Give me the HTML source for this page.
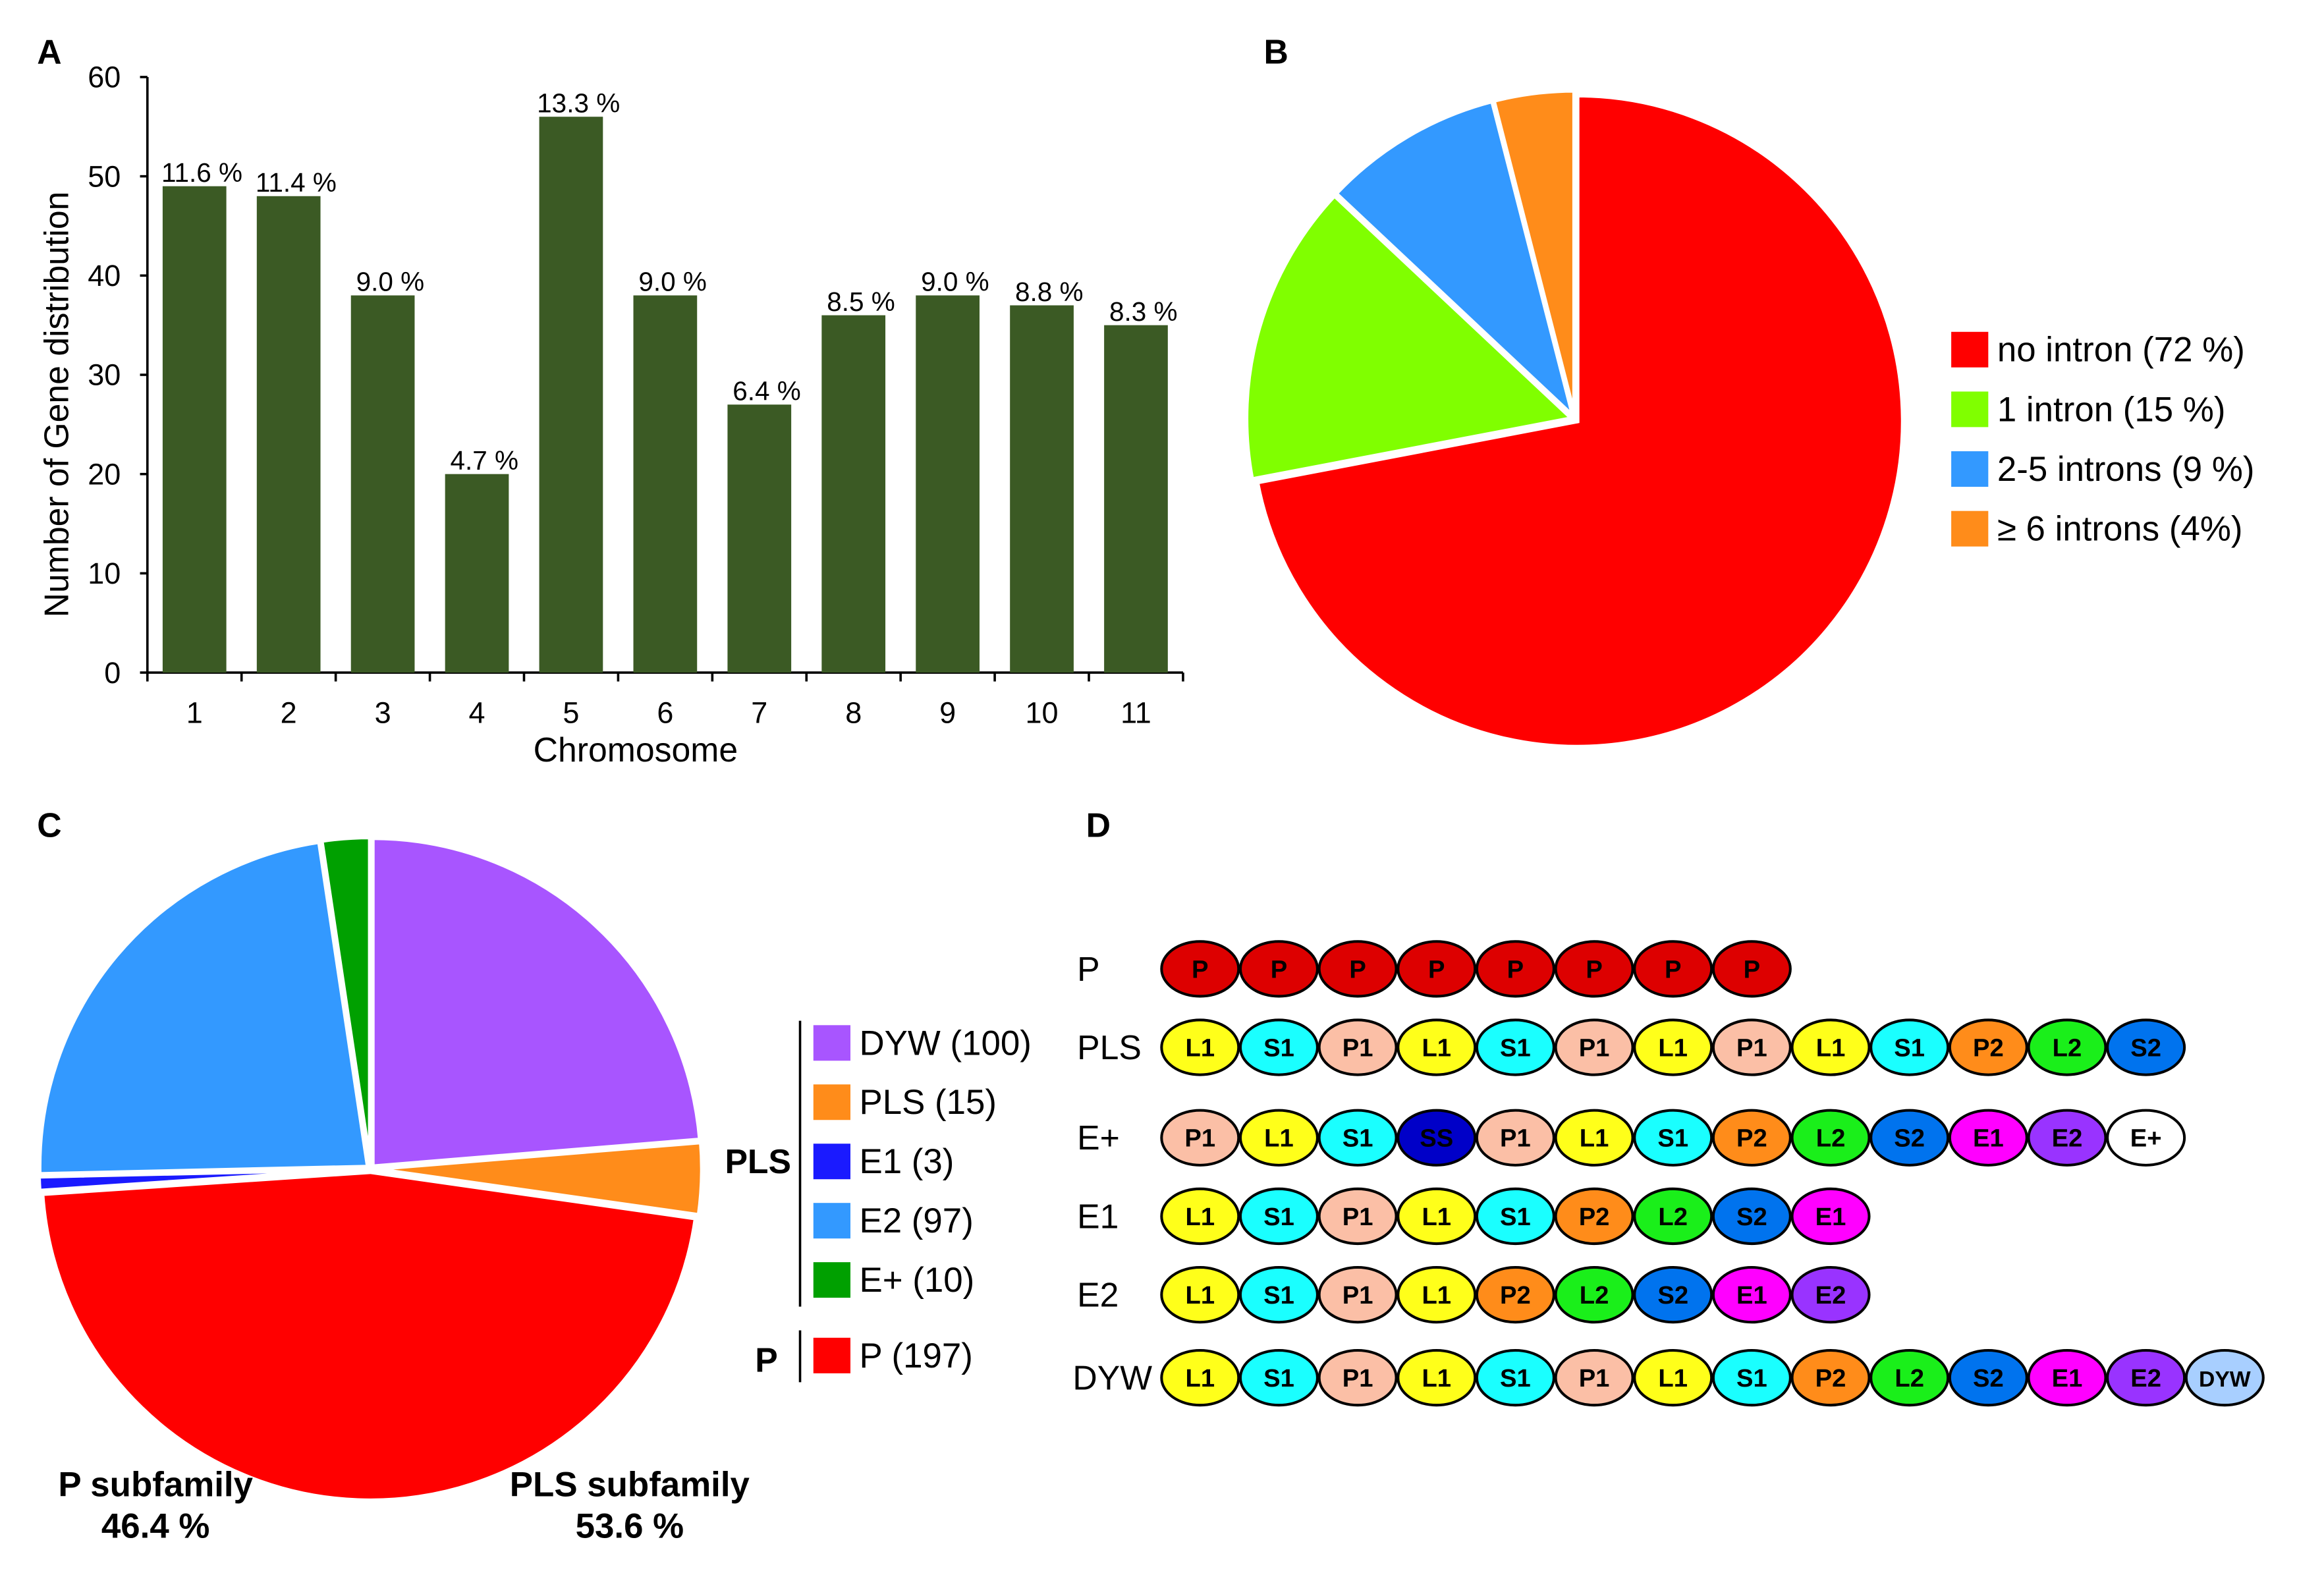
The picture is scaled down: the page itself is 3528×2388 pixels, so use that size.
<!DOCTYPE html>
<html><head><meta charset="utf-8">
<style>
html,body{margin:0;padding:0;background:#fff;}
svg{display:block;}
text{font-family:"Liberation Sans",Arial,sans-serif;}
</style></head>
<body>
<svg id="fig" width="3528" height="2388" viewBox="0 0 1568.6 1061.8" preserveAspectRatio="none" xmlns="http://www.w3.org/2000/svg">
<rect width="1568.6" height="1061.8" fill="#fff"/>
<text x="25" y="43" font-size="23" font-weight="bold">A</text>
<text x="853" y="43" font-size="23" font-weight="bold">B</text>
<text x="25" y="565" font-size="23" font-weight="bold">C</text>
<text x="733" y="565" font-size="23" font-weight="bold">D</text>
<g id="panelA"></g>
<g id="panelB"></g>
<g id="panelC"></g>
<g id="panelD"></g>
</svg>
<script>
// Panel A data
const chromosomes = ['1','2','3','4','5','6','7','8','9','10','11'];
const geneCounts = [49,48,38,20,56,38,27,36,38,37,35];
const pctLabels = ['11.6 %','11.4 %','9.0 %','4.7 %','13.3 %','9.0 %','6.4 %','8.5 %','9.0 %','8.8 %','8.3 %'];
const yTicks = [0,10,20,30,40,50,60];
// Panel B data
const intronLabels = ['no intron (72 %)','1 intron (15 %)','2-5 introns (9 %)','\u2265 6 introns (4%)'];
const intronValues = [72,15,9,4];
const intronColors = ['#ff0000','#80ff00','#3399ff','#ff8c1a'];
// Panel C data
const subLabels = ['DYW (100)','PLS (15)','P (197)','E1 (3)','E2 (97)','E+ (10)'];
const subValues = [100,15,197,3,97,10];
const subColors = ['#a855ff','#ff8c1a','#ff0000','#1a1aff','#3399ff','#00a000'];
// Panel D data
const motifRows = ['P','PLS','E+','E1','E2','DYW'];
const motifSeqs = [
 ['P','P','P','P','P','P','P','P'],
 ['L1','S1','P1','L1','S1','P1','L1','P1','L1','S1','P2','L2','S2'],
 ['P1','L1','S1','SS','P1','L1','S1','P2','L2','S2','E1','E2','E+'],
 ['L1','S1','P1','L1','S1','P2','L2','S2','E1'],
 ['L1','S1','P1','L1','P2','L2','S2','E1','E2'],
 ['L1','S1','P1','L1','S1','P1','L1','S1','P2','L2','S2','E1','E2','DYW']
];
const motifColors = {P:'#dd0000',L1:'#ffff1a',S1:'#1affff',P1:'#fbbfa6',SS:'#0000c8',P2:'#ff8c1a',L2:'#1aef1a',S2:'#0073ee',E1:'#ff00ff',E2:'#9933ff','E+':'#ffffff',DYW:'#a8cfff'};

const NS='http://www.w3.org/2000/svg';
function mk(parent,tag,attrs,txt){const e=document.createElementNS(NS,tag);for(const k in attrs)e.setAttribute(k,attrs[k]);if(txt!==undefined)e.textContent=txt;parent.appendChild(e);return e;}

// ---------- Panel A ----------
(function(){
 const g=document.getElementById('panelA');
 const x0=99.5,x1=798.5,y0=454,y60=52;
 const yS=v=>y0-(y0-y60)*v/60;
 const bw=(x1-x0)/chromosomes.length;
 const xS=i=>x0+bw*(i+0.5);
 const ax=mk(g,'path',{d:`M${x0},${y60}V${y0}H${x1}`,stroke:'#000','stroke-width':1.6,fill:'none'});
 
 
 yTicks.forEach(t=>{
  const l=mk(g,'line',{x1:x0-5,x2:x0,y1:yS(t),y2:yS(t),stroke:'#000','stroke-width':1.6});
  
  
  const tx=mk(g,'text',{x:x0-18,y:yS(t)+7,'font-size':20,'text-anchor':'end'},t);
  
  
 });
 for(let i=0;i<=chromosomes.length;i++){
  const l=mk(g,'line',{x1:x0+bw*i,x2:x0+bw*i,y1:y0,y2:y0+6,stroke:'#000','stroke-width':1.6});
  
  
 }
 chromosomes.forEach((c,i)=>{
  const v=geneCounts[i];
  const r=mk(g,'rect',{x:xS(i)-21.5,y:yS(v),width:43,height:y0-yS(v),fill:'#3b5a24'});
  
  
  const pl=mk(g,'text',{x:xS(i)+5,y:yS(v)-3,'font-size':18,'text-anchor':'middle'},pctLabels[i]);
  
  
  const xl=mk(g,'text',{x:xS(i),y:488,'font-size':20,'text-anchor':'middle'},c);
  
  
 });
 const xt=mk(g,'text',{x:429,y:514,'font-size':23,'text-anchor':'middle'},'Chromosome');
 
 
 const yt=mk(g,'text',{x:0,y:0,'font-size':23,'text-anchor':'middle',transform:'translate(46,273) rotate(-90)'},'Number of Gene distribution');
 
 
})();

function pie(g,cx,cy,r,vals,cols,names,explode){
 const tot=vals.reduce((a,b)=>a+b,0);let a=0;
 vals.forEach((v,i)=>{
  const a0=a, a1=a+v/tot*2*Math.PI; a=a1;
  const mid=(a0+a1)/2, ox=Math.sin(mid)*explode, oy=-Math.cos(mid)*explode;
  const px=t=>cx+ox+r*Math.sin(t), py=t=>cy+oy-r*Math.cos(t);
  const large=(a1-a0)>Math.PI?1:0;
  const p=mk(g,'path',{d:`M${cx+ox},${cy+oy}L${px(a0)},${py(a0)}A${r},${r} 0 ${large} 1 ${px(a1)},${py(a1)}Z`,fill:cols[i],stroke:'#fff','stroke-width':3});
  
  
 });
}

// ---------- Panel B ----------
(function(){
 const g=document.getElementById('panelB');
 pie(g,1063,283,220,intronValues,intronColors,['no-intron','1-intron','2-5-introns','6-plus-introns'],2);
 intronLabels.forEach((l,i)=>{
  const y=236+i*40.3;
  const s=mk(g,'rect',{x:1317,y:y-12,width:25,height:24,fill:intronColors[i]});
  
  
  const t=mk(g,'text',{x:1348,y:y+8,'font-size':23.5},l);
  
  
 });
})();

// ---------- Panel C ----------
(function(){
 const g=document.getElementById('panelC');
 pie(g,250,789,222,subValues,subColors,['dyw','pls','p','e1','e2','e-plus'],2);
 const order=[0,1,3,4,5,2];
 const ys=[704,744,784,824,864,915];
 order.forEach((k,j)=>{
  const s=mk(g,'rect',{x:549,y:ys[j]-12,width:25,height:24,fill:subColors[k]});
  
  
  const t=mk(g,'text',{x:580,y:ys[j]+8,'font-size':23.5},subLabels[k]);
  
  
 });
 mk(g,'line',{x1:540,x2:540,y1:689,y2:882,stroke:'#000','stroke-width':1.6});
 mk(g,'line',{x1:540,x2:540,y1:898,y2:933,stroke:'#000','stroke-width':1.6});
 const a=mk(g,'text',{x:534,y:792,'font-size':23,'font-weight':'bold','text-anchor':'end'},'PLS');
 
 
 const b=mk(g,'text',{x:525,y:926,'font-size':23,'font-weight':'bold','text-anchor':'end'},'P');
 
 
 [['P subfamily',105,1010],['46.4 %',105,1038],['PLS subfamily',425,1010],['53.6 %',425,1038]].forEach(d=>{
  const t=mk(g,'text',{x:d[1],y:d[2],'font-size':23.5,'font-weight':'bold','text-anchor':'middle'},d[0]);
  
  
 });
})();

// ---------- Panel D ----------
(function(){
 const g=document.getElementById('panelD');
 const rowY=[654,707,768,821,874,930];
 motifRows.forEach((r,i)=>{
  const t=mk(g,'text',{x:r==='DYW'?724:727,y:rowY[i]+8,'font-size':23},r);
  
  
  motifSeqs[i].forEach((m,j)=>{
   const cx=810+j*53.2;
   const e=mk(g,'ellipse',{cx:cx,cy:rowY[i],rx:26,ry:18.5,fill:motifColors[m],stroke:'#000','stroke-width':1.8});
   
   
   const tx=mk(g,'text',{x:cx,y:rowY[i]+6,'font-size':m==='DYW'?15:17,'font-weight':'bold','text-anchor':'middle',fill:'#000'},m);
   
   
  });
 });
})();
</script>
</body></html>
